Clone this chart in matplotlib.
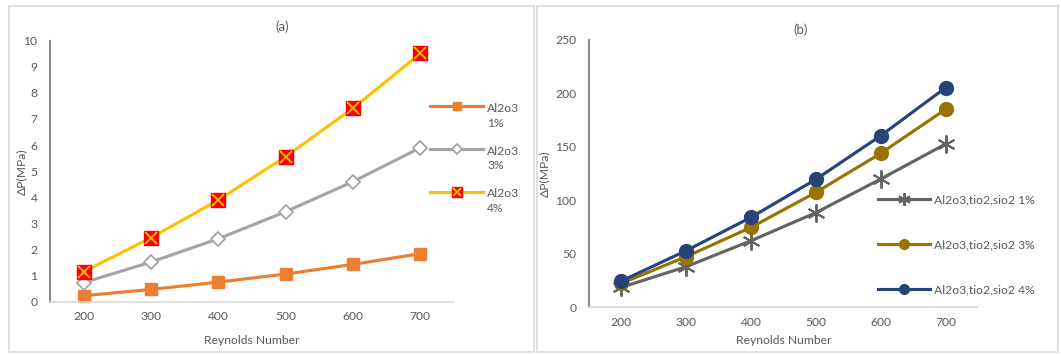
import matplotlib
matplotlib.use("Agg")
import numpy as np
import matplotlib.pyplot as plt
from matplotlib.patches import Rectangle
from matplotlib.lines import Line2D
from matplotlib.legend_handler import HandlerLine2D, HandlerTuple

plt.rcParams['font.family'] = ['Lato', 'DejaVu Sans']

# data
reynolds = ['200', '300', '400', '500', '600', '700']

# (a) Al2o3
al_1 = [0.23, 0.47, 0.75, 1.06, 1.43, 1.84]
al_3 = [0.73, 1.52, 2.41, 3.45, 4.60, 5.90]
al_4 = [1.15, 2.45, 3.90, 5.56, 7.41, 9.51]

# (b) Al2o3,tio2,sio2
mix_1 = [18.7, 38.0, 62.3, 88.5, 120.0, 152.7]
mix_3 = [22.4, 47.4, 74.8, 107.5, 144.0, 185.2]
mix_4 = [24.6, 53.0, 84.2, 119.7, 160.5, 205.4]

TXT = '#595959'
FS = 8.7
W, H = 1061, 354


class RaisedLine(HandlerLine2D):
    # legend key that sits level with the first line of a two-line label
    def __init__(self, lift, **kw):
        super().__init__(**kw)
        self.lift = lift

    def create_artists(self, legend, orig_handle, xdescent, ydescent, width, height,
                       fontsize, trans):
        arts = super().create_artists(legend, orig_handle, xdescent, ydescent,
                                      width, height, fontsize, trans)
        for a in arts:
            a.set_ydata(np.asarray(a.get_ydata()) + self.lift * fontsize)
        return arts


fig = plt.figure(figsize=(W / 100, H / 100), dpi=100)

# panel frames
fig.patches.append(Rectangle((9 / W, 1 - 352 / H), (534 - 9) / W, (352 - 6) / H,
                             transform=fig.transFigure, fill=False, ec='#D9D9D9', lw=1.2))
fig.patches.append(Rectangle((537 / W, 1 - 352 / H), (1058 - 537) / W, (352 - 6) / H,
                             transform=fig.transFigure, fill=False, ec='#D9D9D9', lw=1.2))

ax1 = fig.add_axes([50 / W, 1 - 301.7 / H, 404 / W, 261 / H])
ax2 = fig.add_axes([589 / W, 1 - 307.3 / H, 389 / W, 267.3 / H])

x = range(len(reynolds))


def style(ax, ymax, ystep, ypad):
    ax.set_xlim(-0.5, len(reynolds) - 0.5)
    ax.set_ylim(0, ymax)
    ax.set_yticks(range(0, ymax + 1, ystep))
    ax.set_xticks(list(x))
    ax.set_xticklabels(reynolds)
    for s in ['top', 'right']:
        ax.spines[s].set_visible(False)
    ax.spines['left'].set_color('#8C8C8C')
    ax.spines['left'].set_linewidth(1.5)
    ax.spines['bottom'].set_color('#D9D9D9')
    ax.spines['bottom'].set_linewidth(1.2)
    ax.tick_params(axis='both', length=0, labelsize=FS, labelcolor=TXT)
    ax.tick_params(axis='x', pad=7)
    ax.tick_params(axis='y', pad=ypad)
    ax.set_xlabel('Reynolds Number', fontsize=FS, color=TXT)
    ax.set_ylabel('ΔP(MPa)', fontsize=FS, color=TXT)


# (a)
l1, = ax1.plot(x, al_1, color='#ED7D31', lw=2.25, marker='s', ms=8, clip_on=False)
l3, = ax1.plot(x, al_3, color='#A5A5A5', lw=2.25, marker='D', ms=7, mfc='white',
               mec='#A5A5A5', mew=1.3, clip_on=False)
l4, = ax1.plot(x, al_4, color='#FFC000', lw=2.25, marker='s', ms=9.5, mfc='#FF0000',
               mec='#FF0000', clip_on=False)
l4x, = ax1.plot(x, al_4, ls='none', marker='x', ms=8, mec='#FFC000', mew=1.3, clip_on=False)
style(ax1, 10, 1, 9)
ax1.xaxis.set_label_coords(0.5, -0.128)
ax1.yaxis.set_label_coords(-0.056, 0.5)
fig.text(282 / W, 1 - 27 / H, '(a)', ha='center', va='center', fontsize=9.5, color=TXT)

leg1 = ax1.legend([l1, l3, (l4, l4x)], ['Al2o3\n1%', 'Al2o3\n3%', 'Al2o3\n4%'],
                  handler_map={Line2D: RaisedLine(0.83),
                               tuple: HandlerTuple(ndivide=1)},
                  loc='upper left', bbox_to_anchor=(430 / W, 1 - 103 / H),
                  bbox_transform=fig.transFigure, frameon=False, fontsize=FS,
                  handlelength=4.4, handletextpad=0.33, labelspacing=1.4,
                  borderpad=0, borderaxespad=0, labelcolor=TXT, markerscale=0.8)
for t in leg1.get_texts():
    t.set_linespacing(1.42)

# (b)
m1, = ax2.plot(x, mix_1, color='#636363', lw=2.25, marker=(6, 2, 0), ms=13, mew=1.4,
               clip_on=False)
m3, = ax2.plot(x, mix_3, color='#997300', lw=2.25, marker='o', ms=10, clip_on=False)
m4, = ax2.plot(x, mix_4, color='#264478', lw=2.25, marker='o', ms=10, clip_on=False)
style(ax2, 250, 50, 9)
ax2.xaxis.set_label_coords(0.5, -0.104)
ax2.yaxis.set_label_coords(-0.1, 0.5)
fig.text(801 / W, 1 - 30 / H, '(b)', ha='center', va='center', fontsize=9.5, color=TXT)

ax2.legend([m1, m3, m4], ['Al2o3,tio2,sio2 1%', 'Al2o3,tio2,sio2 3%', 'Al2o3,tio2,sio2 4%'],
           loc='upper left', bbox_to_anchor=(878 / W, 1 - 194 / H),
           bbox_transform=fig.transFigure, frameon=False, fontsize=FS,
           handlelength=4.3, handletextpad=0.33, labelspacing=2.83,
           borderpad=0, borderaxespad=0, labelcolor=TXT, markerscale=0.7)

fig.savefig('out.png', dpi=100)
